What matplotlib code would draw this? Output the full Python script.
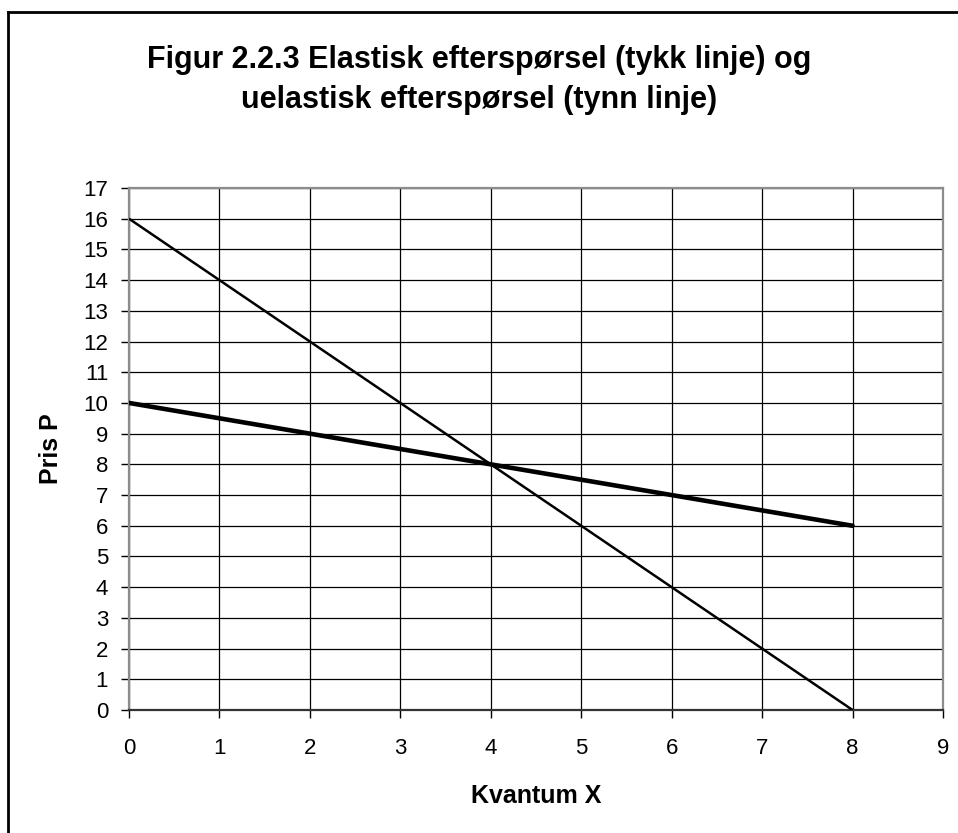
import matplotlib
matplotlib.use("Agg")
import matplotlib.pyplot as plt
from matplotlib.lines import Line2D

plt.rcParams['font.family'] = ['Liberation Sans', 'DejaVu Sans']

# Demand schedules
quantity = [0, 1, 2, 3, 4, 5, 6, 7, 8]
price_elastic = [10, 9.5, 9, 8.5, 8, 7.5, 7, 6.5, 6]      # thick line
price_inelastic = [16, 14, 12, 10, 8, 6, 4, 2, 0]          # thin line

x_ticks = list(range(0, 10))
y_ticks = list(range(0, 18))

title_lines = ["Figur 2.2.3 Elastisk efterspørsel (tykk linje) og",
               "uelastisk efterspørsel (tynn linje)"]
x_label = "Kvantum X"
y_label = "Pris P"

W, H = 958, 833
fig = plt.figure(figsize=(W / 100, H / 100), dpi=100)
left, right, top, bottom = 129, 943, 188, 710
ax = fig.add_axes([left / W, 1 - bottom / H, (right - left) / W, (bottom - top) / H])

ax.plot(quantity, price_inelastic, color="black", lw=1.8, solid_capstyle="butt", zorder=3)
ax.plot(quantity, price_elastic, color="black", lw=3.3, solid_capstyle="round", zorder=3)

ax.set_xlim(0, 9)
ax.set_ylim(0, 17)
ax.set_xticks(x_ticks)
ax.set_yticks(y_ticks)
ax.grid(True, color="black", lw=0.9)
ax.set_axisbelow(True)
ax.tick_params(direction="out", length=6, width=1, colors="black", labelsize=16)
ax.tick_params(axis="y", pad=9)
ax.tick_params(axis="x", pad=14)

for side in ("left", "right", "top"):
    ax.spines[side].set_color("#8c8c8c")
    ax.spines[side].set_linewidth(1.6)
ax.spines["bottom"].set_color("#333333")
ax.spines["bottom"].set_linewidth(1.6)

ax.set_xlabel(x_label, fontsize=18, fontweight="bold", va="baseline")
ax.xaxis.set_label_coords(0.5, (bottom - 803) / (bottom - top))
ax.set_ylabel(y_label, fontsize=18, fontweight="bold", va="center", ha="center")
ax.yaxis.set_label_coords((51 - left) / (right - left), 0.5)

for line, base in zip(title_lines, (68, 108)):
    fig.text(0.5, 1 - base / H, line, ha="center", va="baseline", fontsize=22,
             fontweight="bold")

# Chart frame (left and top edges)
fig.add_artist(Line2D([8 / W, 8 / W], [0, 1 - 12 / H], transform=fig.transFigure,
                      color="black", lw=2))
fig.add_artist(Line2D([8 / W, 1], [1 - 12 / H, 1 - 12 / H], transform=fig.transFigure,
                      color="black", lw=2))

fig.savefig("out.png", dpi=100)
